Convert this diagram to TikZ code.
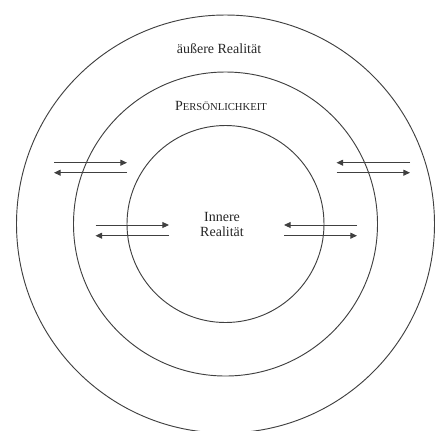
\documentclass[tikz,border=0pt]{standalone}
\usepackage{fontspec}
\setmainfont{Liberation Serif}
\usetikzlibrary{arrows.meta}

\begin{document}
\begin{tikzpicture}[x=0.75pt, y=-0.75pt,
  every node/.style={font=\fontsize{10.5}{11.7}\selectfont, text=black!85},
  ring/.style={circle, draw=black!75, line width=0.7pt, inner sep=0pt},
  flow/.style={-{Triangle[length=5pt,width=4.5pt]}, line width=0.7pt, draw=black!75},
  lbl/.style={align=center, inner sep=1pt}
]
\useasboundingbox (0,0) rectangle (436,430);

% --- the three rings
\coordinate (mid) at (225.5,224);
\node[ring, minimum size=313.5pt] (outer)  at (mid) {};
\node[ring, minimum size=228pt]   (person) at (mid) {};
\node[ring, minimum size=147.75pt](inner)  at (mid) {};

% --- labels
\node[lbl] (outtxt) at (219,49)  {äußere Realität};
\node[lbl] (pertxt) at (221,106) {P{\fontsize{8}{9}\selectfont ERSÖNLICHKEIT}};
\node[lbl] (intxt)  at (222,224.5) {Innere\\Realität};

% --- exchange outer <-> personality
\coordinate (ul-a) at (54,162.7);   \coordinate (ul-b) at (127,162.7);
\coordinate (ul-c) at (127,172.7);  \coordinate (ul-d) at (54,172.7);
\coordinate (ur-a) at (410,162.7);  \coordinate (ur-b) at (336.5,162.7);
\coordinate (ur-c) at (336.5,172.7);\coordinate (ur-d) at (410,172.7);
\draw[flow] (ul-a) -- (ul-b);
\draw[flow] (ul-c) -- (ul-d);
\draw[flow] (ur-a) -- (ur-b);
\draw[flow] (ur-c) -- (ur-d);

% --- exchange personality <-> inner
\coordinate (ll-a) at (95.5,225);   \coordinate (ll-b) at (169,225);
\coordinate (ll-c) at (169,235.7);  \coordinate (ll-d) at (95.5,235.7);
\coordinate (lr-a) at (357,225);    \coordinate (lr-b) at (284,225);
\coordinate (lr-c) at (284,235.7);  \coordinate (lr-d) at (357,235.7);
\draw[flow] (ll-a) -- (ll-b);
\draw[flow] (ll-c) -- (ll-d);
\draw[flow] (lr-a) -- (lr-b);
\draw[flow] (lr-c) -- (lr-d);

\end{tikzpicture}
\end{document}
